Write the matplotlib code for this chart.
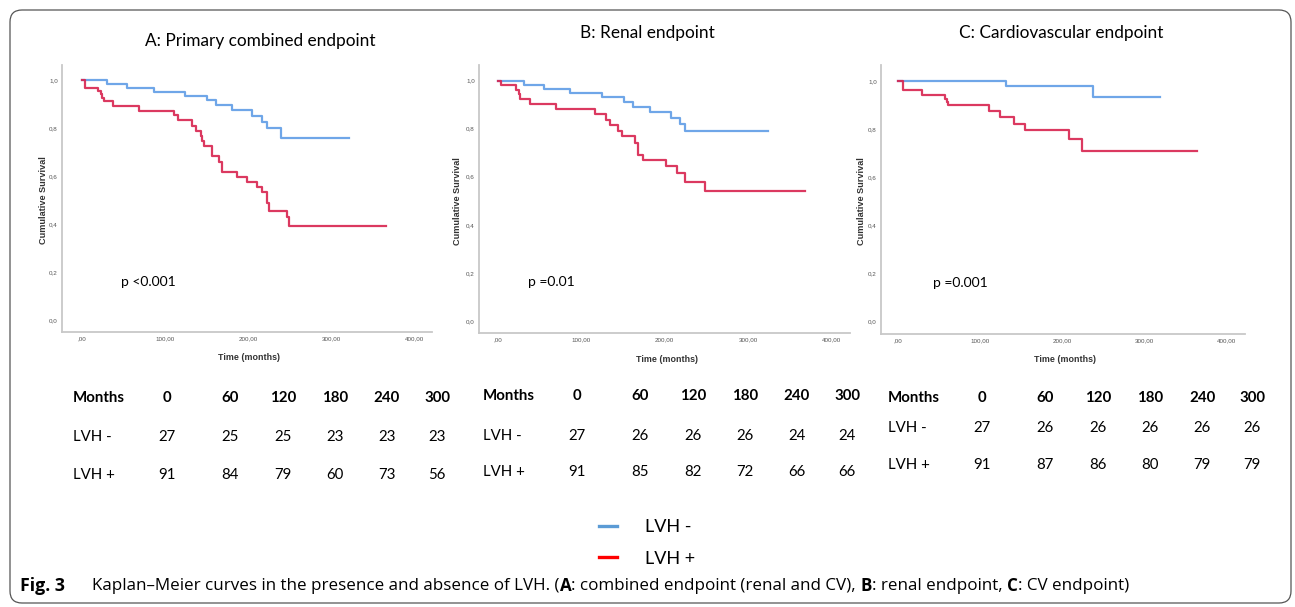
import matplotlib.pyplot as plt
from matplotlib.lines import Line2D
from matplotlib.patches import FancyBboxPatch

# Kaplan-Meier curves: time (months) and cumulative survival
a_neg_t = [0, 31, 54, 87, 124, 150, 161, 181, 205, 216, 222, 239, 321]
a_neg_s = [1.0, 0.985, 0.968, 0.95, 0.934, 0.916, 0.896, 0.875, 0.848, 0.825, 0.798, 0.76, 0.76]
a_pos_t = [0, 4, 20, 23, 25, 27, 38, 69, 111, 116, 133, 137, 143, 145, 147, 156, 165, 168,
           186, 199, 210, 216, 222, 223, 225, 246, 249, 365]
a_pos_s = [1.0, 0.968, 0.954, 0.94, 0.927, 0.913, 0.892, 0.871, 0.853, 0.832, 0.809, 0.788,
           0.765, 0.747, 0.726, 0.684, 0.657, 0.618, 0.597, 0.576, 0.555, 0.532, 0.508, 0.486,
           0.456, 0.428, 0.393, 0.393]

b_neg_t = [0, 32, 56, 86, 125, 151, 162, 182, 207, 218, 224, 324]
b_neg_s = [1.0, 0.982, 0.966, 0.948, 0.931, 0.913, 0.892, 0.869, 0.844, 0.821, 0.792, 0.792]
b_pos_t = [0, 4, 22, 25, 27, 39, 70, 117, 130, 134, 144, 149, 165, 168, 174, 201, 215, 224, 248, 368]
b_pos_s = [1.0, 0.982, 0.961, 0.945, 0.924, 0.903, 0.883, 0.862, 0.837, 0.817, 0.792, 0.768,
           0.741, 0.692, 0.669, 0.644, 0.614, 0.579, 0.541, 0.541]

c_neg_t = [0, 132, 238, 319]
c_neg_s = [1.0, 0.98, 0.935, 0.935]
c_pos_t = [0, 6, 30, 57, 60, 61, 111, 124, 141, 155, 208, 224, 364]
c_pos_s = [1.0, 0.961, 0.942, 0.924, 0.914, 0.90, 0.873, 0.848, 0.823, 0.795, 0.758, 0.709, 0.709]

# numbers at risk
risk_months = [0, 60, 120, 180, 240, 300]
a_neg_risk = [27, 25, 25, 23, 23, 23]
a_pos_risk = [91, 84, 79, 60, 73, 56]
b_neg_risk = [27, 26, 26, 26, 24, 24]
b_pos_risk = [91, 85, 82, 72, 66, 66]
c_neg_risk = [27, 26, 26, 26, 26, 26]
c_pos_risk = [91, 87, 86, 80, 79, 79]

titles = ["A: Primary combined endpoint", "B: Renal endpoint", "C: Cardiovascular endpoint"]
p_texts = ["p <0.001", "p =0.01", "p =0.001"]
group_labels = ["LVH -", "LVH +"]

y_ticks = [0, 0.2, 0.4, 0.6, 0.8, 1.0]
y_ticklabels = ["0,0", "0,2", "0,4", "0,6", "0,8", "1,0"]
x_ticks = [0, 100, 200, 300, 400]
x_ticklabels = [",00", "100,00", "200,00", "300,00", "400,00"]

BLUE = "#5f9de6"
RED = "#d8234f"
TXT = "Lato"

W, H = 1295, 607
fig = plt.figure(figsize=(W / 100, H / 100), dpi=100)

# pixel-coordinate overlay for the frame and all free text
bg = fig.add_axes([0, 0, 1, 1])
bg.set_xlim(0, W)
bg.set_ylim(H, 0)
bg.axis("off")
bg.add_patch(FancyBboxPatch((10, 10), 1281, 593, boxstyle="round,pad=0,rounding_size=12",
                            fill=False, ec="#555555", lw=0.9))

# layout of each panel: axes box in pixels (left, top, right, bottom) and limits
panels = [
    dict(box=(62, 65, 432, 332), xlim=(-23.6, 420.4), ylim=(-0.05, 1.0625),
         title_xy=(260, 41), ylab_x=43, xlab_y=357, p_xy=(47, 0.158),
         tab_x=73, rows_y=(398, 437, 475),
         curves=[(a_neg_t, a_neg_s), (a_pos_t, a_pos_s)], risk=[a_neg_risk, a_pos_risk]),
    dict(box=(479, 65, 850, 333), xlim=(-22.4, 421.9), ylim=(-0.05, 1.065),
         title_xy=(647, 33), ylab_x=457, xlab_y=359, p_xy=(36.3, 0.162),
         tab_x=483, rows_y=(396, 436, 472),
         curves=[(b_neg_t, b_neg_s), (b_pos_t, b_pos_s)], risk=[b_neg_risk, b_pos_risk]),
    dict(box=(881, 65, 1245, 334), xlim=(-20.3, 422.3), ylim=(-0.051, 1.066),
         title_xy=(1061, 33), ylab_x=861, xlab_y=359, p_xy=(42.9, 0.161),
         tab_x=888, rows_y=(398, 428, 465),
         curves=[(c_neg_t, c_neg_s), (c_pos_t, c_pos_s)], risk=[c_neg_risk, c_pos_risk]),
]
col_offsets = [94, 157, 210, 262, 314, 364]

for i, p in enumerate(panels):
    l, t, r, b = p["box"]
    ax = fig.add_axes([l / W, 1 - b / H, (r - l) / W, (b - t) / H])
    for (tt, ss), c in zip(p["curves"], [BLUE, RED]):
        ax.step(tt, ss, where="post", color=c, lw=1.6, alpha=0.9)
    ax.set_xlim(*p["xlim"])
    ax.set_ylim(*p["ylim"])
    ax.set_xticks(x_ticks)
    ax.set_xticklabels(x_ticklabels)
    ax.set_yticks(y_ticks)
    ax.set_yticklabels(y_ticklabels)
    ax.tick_params(length=0, labelsize=4.5, labelcolor="#555555", pad=3)
    for lab in ax.get_xticklabels() + ax.get_yticklabels():
        lab.set_family("Liberation Sans")
    for s in ["top", "right"]:
        ax.spines[s].set_visible(False)
    for s in ["left", "bottom"]:
        ax.spines[s].set_color("#c8c8c8")
        ax.spines[s].set_linewidth(1.3)
    ax.text(p["p_xy"][0], p["p_xy"][1], p_texts[i], fontsize=10, va="center", family=TXT)

    # axis titles
    bg.text(p["ylab_x"], (t + b) / 2 + 2, "Cumulative Survival", rotation=90, ha="center",
            va="center", fontsize=6.6, fontweight="bold", color="#333333", family="Liberation Sans")
    bg.text((l + r) / 2 + 2, p["xlab_y"], "Time (months)", ha="center", va="center",
            fontsize=6.4, fontweight="bold", color="#333333", family="Liberation Sans")

    bg.text(p["title_xy"][0], p["title_xy"][1], titles[i], ha="center", va="center",
            fontsize=12.4, family=TXT)

    # numbers-at-risk table
    x0 = p["tab_x"]
    y_head, y_neg, y_pos = p["rows_y"]
    fs = 10.8
    bg.text(x0, y_head, "Months", ha="left", va="center", fontsize=fs, fontweight="bold", family=TXT)
    bg.text(x0, y_neg, group_labels[0], ha="left", va="center", fontsize=fs, family=TXT)
    bg.text(x0, y_pos, group_labels[1], ha="left", va="center", fontsize=fs, family=TXT)
    for off, m, n_neg, n_pos in zip(col_offsets, risk_months, p["risk"][0], p["risk"][1]):
        bg.text(x0 + off, y_head, str(m), ha="center", va="center", fontsize=fs,
                fontweight="bold", family=TXT)
        bg.text(x0 + off, y_neg, str(n_neg), ha="center", va="center", fontsize=fs, family=TXT)
        bg.text(x0 + off, y_pos, str(n_pos), ha="center", va="center", fontsize=fs, family=TXT)

# legend
handles = [Line2D([], [], color="#5b9bd5", lw=2.4, label=group_labels[0]),
           Line2D([], [], color="#ff0000", lw=2.4, label=group_labels[1])]
fig.legend(handles=handles, loc="center", bbox_to_anchor=(647 / W, 1 - 543 / H), frameon=False,
           prop={"family": TXT, "size": 13}, handlelength=1.0, handletextpad=1.55,
           labelspacing=0.85)

# caption with bold pieces
pieces = [("Kaplan\u2013Meier curves in the presence and absence of LVH. (", "normal"),
          ("A", "bold"), (": combined endpoint (renal and CV), ", "normal"),
          ("B", "bold"), (": renal endpoint, ", "normal"),
          ("C", "bold"), (": CV endpoint)", "normal")]
bg.text(20, 586, "Fig. 3", ha="left", va="center", fontsize=12.8, fontweight="bold", family="Open Sans")
renderer = fig.canvas.get_renderer()
x = 92
for txt, wt in pieces:
    tx = bg.text(x, 586, txt, ha="left", va="center", fontsize=12.28, fontweight=wt, family="Open Sans")
    bb = tx.get_window_extent(renderer)
    x = bg.transData.inverted().transform((bb.x1, 0))[0]

fig.savefig("out.png", dpi=100)
plt.close(fig)
